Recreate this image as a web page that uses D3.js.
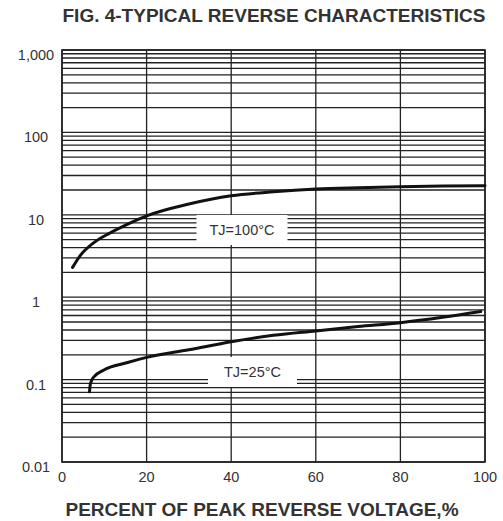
<!DOCTYPE html>
<html>
<head>
<meta charset="utf-8">
<script src="https://cdn.jsdelivr.net/npm/d3@7"></script>
<style>
  body { margin: 0; background: #fff; }
  text { font-family: "Liberation Sans", Arial, sans-serif; fill: #333; }
</style>
</head>
<body>
<div id="chart"></div>
<script>
var svgWidth = 503;
var svgHeight = 521;

// plot box (pixels)
var plot = { left: 62, right: 485, top: 50, bottom: 462 };

// data
var xTicks = [0, 20, 40, 60, 80, 100];
var yTicks = [0.01, 0.1, 1, 10, 100, 1000];
var yTickLabels = ["0.01", "0.1", "1", "10", "100", "1,000"];

var hotPct = [2.5, 4.3, 7.3, 11.3, 15.3, 20, 30, 40, 50, 60, 70, 80, 90, 100];
var hotVal = [2.3, 3.2, 4.5, 6.0, 7.6, 9.7, 13.5, 17, 19, 20.5, 21.3, 21.9, 22.3, 22.5];

var coldPct = [6.5, 6.7, 7.4, 9.8, 15.3, 20, 30, 40, 50, 60, 70, 80, 90, 99];
var coldVal = [0.071, 0.088, 0.106, 0.13, 0.16, 0.186, 0.23, 0.288, 0.345, 0.39, 0.44, 0.49, 0.57, 0.67];

var svg = d3.select("#chart").append("svg")
  .attr("width", svgWidth)
  .attr("height", svgHeight);

var x = d3.scaleLinear().domain([0, 100]).range([plot.left, plot.right]);
var y = d3.scaleLog().domain([0.01, 1000]).range([plot.bottom, plot.top]);

// horizontal log grid: 1..9 in each decade
var hLines = [];
for (var k = -2; k < 3; k++) {
  for (var m = 1; m < 10; m++) hLines.push(m * Math.pow(10, k));
}
hLines.push(1000);

svg.append("g").selectAll("line").data(hLines).enter().append("line")
  .attr("x1", plot.left).attr("x2", plot.right)
  .attr("y1", d => y(d)).attr("y2", d => y(d))
  .attr("stroke", "#222").attr("stroke-width", 1.3);

svg.append("g").selectAll("line").data(xTicks).enter().append("line")
  .attr("x1", d => x(d)).attr("x2", d => x(d))
  .attr("y1", plot.top).attr("y2", plot.bottom)
  .attr("stroke", "#222").attr("stroke-width", 1.3);

svg.append("rect")
  .attr("x", plot.left).attr("y", plot.top)
  .attr("width", plot.right - plot.left).attr("height", plot.bottom - plot.top)
  .attr("fill", "none").attr("stroke", "#222").attr("stroke-width", 1.6);

// curves
var line = d3.line()
  .x(d => x(d[0]))
  .y(d => y(d[1]))
  .curve(d3.curveMonotoneX);

svg.append("path")
  .datum(d3.zip(hotPct, hotVal))
  .attr("d", line)
  .attr("fill", "none").attr("stroke", "#111").attr("stroke-width", 3)
  .attr("stroke-linecap", "round");

svg.append("path")
  .datum(d3.zip(coldPct, coldVal))
  .attr("d", line)
  .attr("fill", "none").attr("stroke", "#111").attr("stroke-width", 3)
  .attr("stroke-linecap", "round");

// curve labels with white boxes over the grid
function curveLabel(cx, cy, w, h, txt) {
  svg.append("rect")
    .attr("x", cx - w / 2).attr("y", cy - h / 2)
    .attr("width", w).attr("height", h)
    .attr("fill", "#fff");
  svg.append("text")
    .attr("x", cx).attr("y", cy + 5)
    .attr("text-anchor", "middle")
    .attr("font-size", 14.5)
    .text(txt);
}
curveLabel(242, 230, 91, 30, "TJ=100\u00b0C");
curveLabel(252.5, 372, 89, 30, "TJ=25\u00b0C");

// axis tick labels
svg.append("g").selectAll("text").data(yTicks).enter().append("text")
  .attr("x", 36)
  .attr("y", d => y(d) + 10)
  .attr("text-anchor", "middle")
  .attr("font-size", 14.5)
  .text((d, i) => yTickLabels[i]);

svg.append("g").selectAll("text").data(xTicks).enter().append("text")
  .attr("x", d => x(d))
  .attr("y", 482)
  .attr("text-anchor", "middle")
  .attr("font-size", 14.5)
  .text(d => d);

// titles
svg.append("text")
  .attr("x", 274).attr("y", 22)
  .attr("text-anchor", "middle")
  .attr("font-size", 19).attr("font-weight", "bold")
  .text("FIG. 4-TYPICAL REVERSE CHARACTERISTICS");

svg.append("text")
  .attr("x", 262).attr("y", 516)
  .attr("text-anchor", "middle")
  .attr("font-size", 19).attr("font-weight", "bold")
  .text("PERCENT OF PEAK REVERSE VOLTAGE,%");
</script>
</body>
</html>
